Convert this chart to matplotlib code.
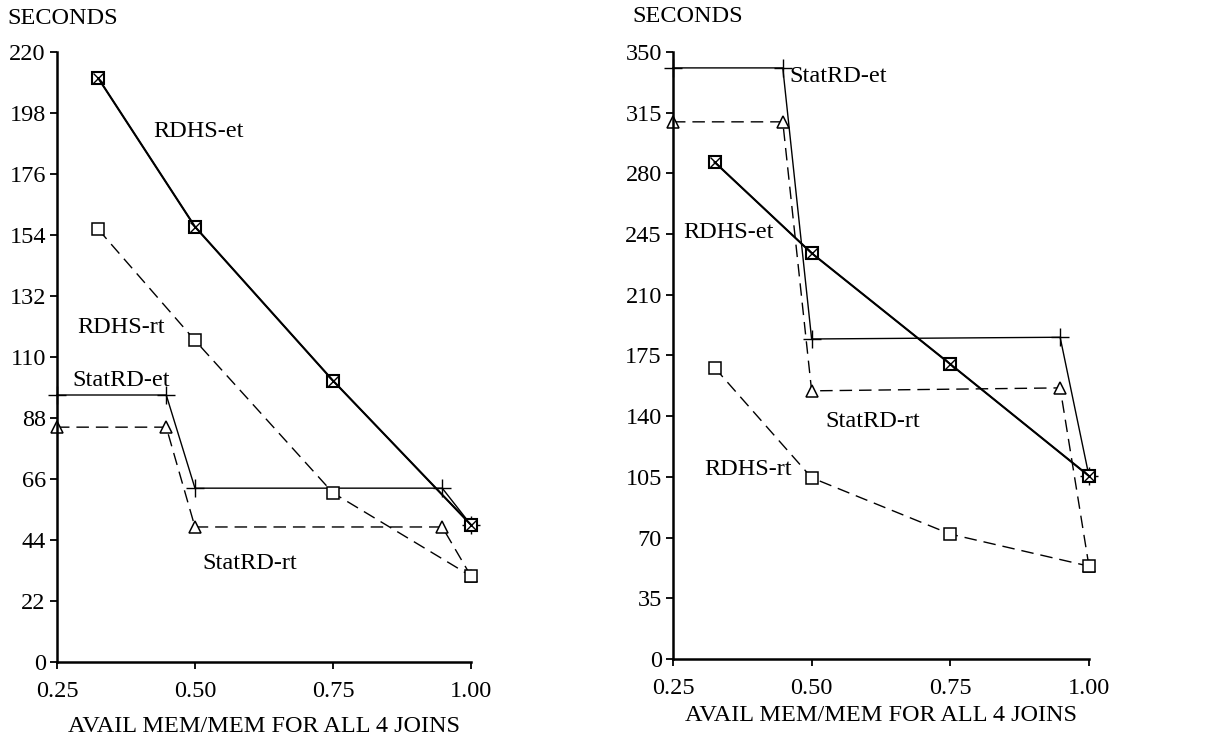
import matplotlib
matplotlib.use("Agg")
import matplotlib.pyplot as plt

plt.rcParams["font.family"] = ["Liberation Serif", "DejaVu Serif"]

# Memory ratios (x) and response / execution times in seconds
x_rdhs = [0.325, 0.50, 0.75, 1.00]
x_stat = [0.25, 0.448, 0.50, 0.948, 1.00]

# Left panel
left_rdhs_et = [210.5, 157.0, 101.5, 49.5]
left_rdhs_rt = [156.0, 116.0, 61.0, 31.0]
left_stat_et = [96.3, 96.3, 62.7, 62.7, 49.5]
left_stat_rt = [84.7, 84.7, 48.7, 48.7, 31.0]
left_yticks = [0, 22, 44, 66, 88, 110, 132, 154, 176, 198, 220]

# Right panel
right_rdhs_et = [286.5, 234.0, 170.0, 105.5]
right_rdhs_rt = [168.0, 104.5, 72.0, 53.5]
right_stat_et = [340.8, 340.8, 184.5, 185.5, 105.5]
right_stat_rt = [309.7, 309.7, 154.6, 156.3, 53.5]
right_yticks = [0, 35, 70, 105, 140, 175, 210, 245, 280, 315, 350]

xticks = [0.25, 0.50, 0.75, 1.00]
xtick_labels = ["0.25", "0.50", "0.75", "1.00"]
xlabel = "AVAIL MEM/MEM FOR ALL 4 JOINS"
ylabel = "SECONDS"

FS = 17.5
DASH = (9, 5)

fig = plt.figure(figsize=(12.2, 7.4), dpi=100)
ax_l = fig.add_axes([0.0467, 0.1054, 0.3393, 0.8243])
ax_r = fig.add_axes([0.5516, 0.1095, 0.3410, 0.8203])


def draw_panel(ax, rdhs_et, rdhs_rt, stat_et, stat_rt, yticks, labels, seconds_xy,
               xlabel_pad):
    common = dict(color="black", clip_on=False)
    # StatRD execution time: solid with plus markers
    ax.plot(x_stat, stat_et, "-", lw=1.0, marker="+", ms=13, mew=1.0, **common)
    # StatRD response time: dashed with open triangles
    ax.plot(x_stat, stat_rt, lw=1.0, marker="^", ms=9, mew=1.1, mfc="white",
            dashes=DASH, **common)
    # RDHS response time: dashed with open squares
    ax.plot(x_rdhs, rdhs_rt, lw=1.0, marker="s", ms=8.5, mew=1.1, mfc="white",
            dashes=DASH, **common)
    # RDHS execution time: solid with boxed-x markers
    ax.plot(x_rdhs, rdhs_et, "-", lw=1.0, marker="s", ms=8.5, mew=1.5, mfc="white",
            **common)
    ax.plot(x_rdhs, rdhs_et, "none", marker="x", ms=6.5, mew=1.0, **common)

    ax.set_xlim(0.25, 1.00)
    ax.set_ylim(yticks[0], yticks[-1])
    ax.set_xticks(xticks)
    ax.set_xticklabels(xtick_labels)
    ax.set_yticks(yticks)
    ax.set_yticklabels([str(v) for v in yticks])
    for side in ("top", "right"):
        ax.spines[side].set_visible(False)
    for side in ("left", "bottom"):
        ax.spines[side].set_linewidth(1.8)
    ax.tick_params(axis="both", direction="out", length=5, width=1.3,
                   labelsize=FS, colors="black")
    ax.tick_params(axis="y", pad=3)
    ax.tick_params(axis="x", pad=9)
    ax.set_xlabel(xlabel, fontsize=FS, labelpad=xlabel_pad)

    for text, tx, ty in labels:
        ax.text(tx, ty, text, fontsize=FS, ha="left", va="center")

    fig.text(seconds_xy[0], seconds_xy[1], ylabel, fontsize=FS,
             ha="left", va="center", transform=fig.transFigure)


draw_panel(
    ax_l, left_rdhs_et, left_rdhs_rt, left_stat_et, left_stat_rt, left_yticks,
    [("RDHS-et", 0.424, 191.5), ("RDHS-rt", 0.286, 120.8),
     ("StatRD-et", 0.277, 101.5), ("StatRD-rt", 0.513, 35.7)],
    (7 / 1220, 1 - 19 / 740), 10,
)
draw_panel(
    ax_r, right_rdhs_et, right_rdhs_rt, right_stat_et, right_stat_rt, right_yticks,
    [("StatRD-et", 0.459, 335.6), ("RDHS-et", 0.268, 245.7),
     ("StatRD-rt", 0.524, 136.7), ("RDHS-rt", 0.306, 109.0)],
    (632 / 1220, 1 - 17 / 740), 4,
)

fig.savefig("out.png", dpi=100, facecolor="white")
